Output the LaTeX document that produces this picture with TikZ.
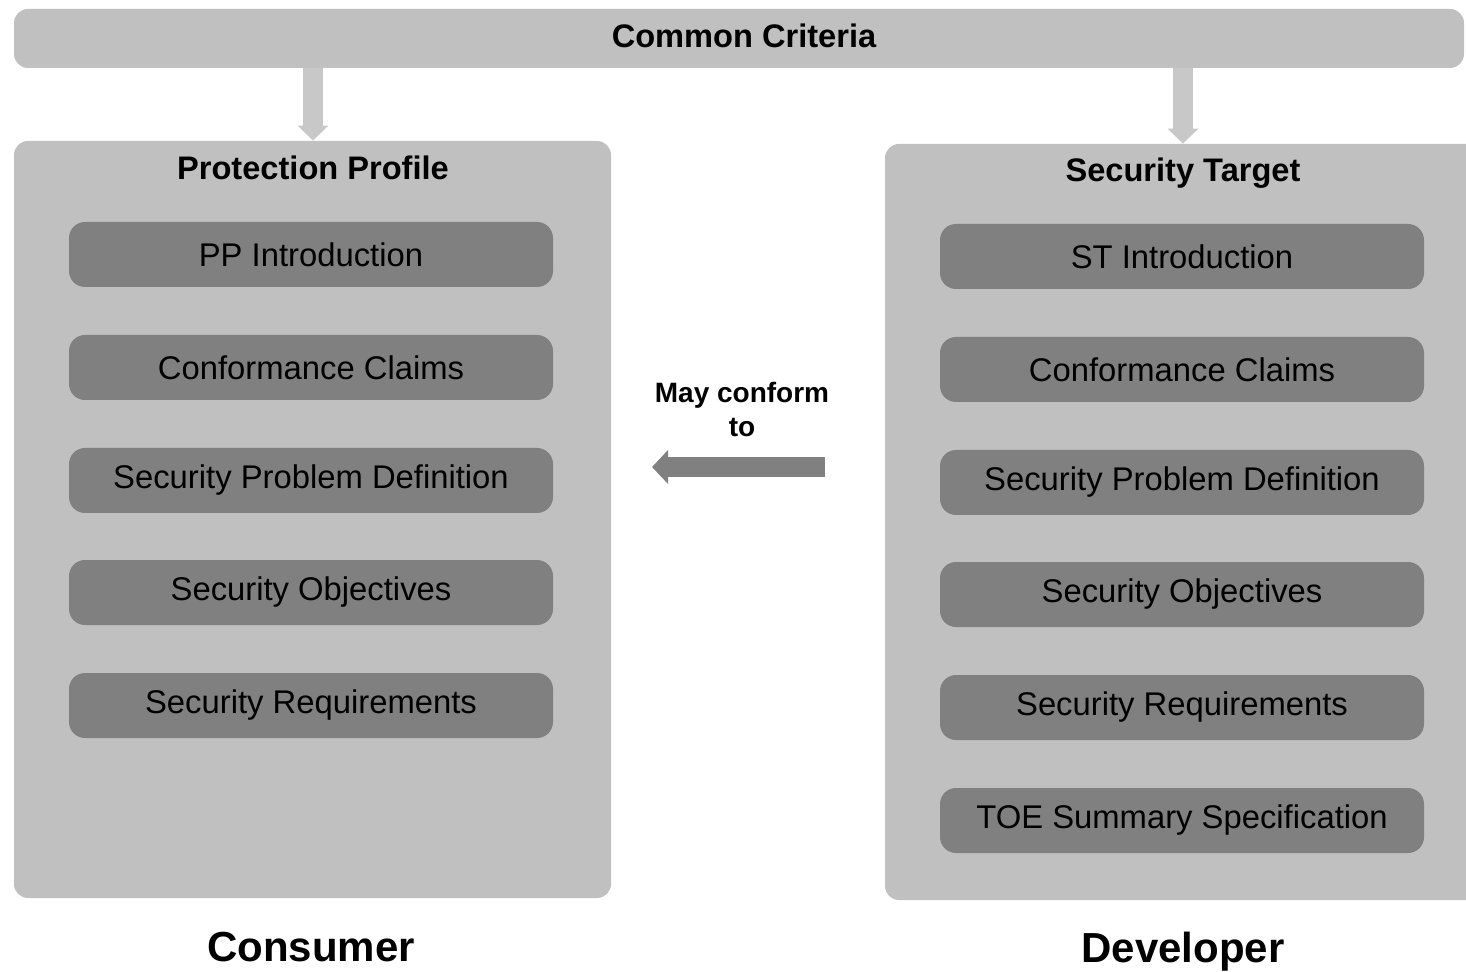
\documentclass[tikz,border=0pt]{standalone}
\usepackage{fontspec}
\setmainfont{Liberation Sans}
\usetikzlibrary{arrows.meta, positioning}
\definecolor{panelgrey}{HTML}{C0C0C0}
\definecolor{partgrey}{HTML}{808080}
\definecolor{feedgrey}{HTML}{C8C8C8}

\begin{document}
\begin{tikzpicture}[x=0.5pt, y=-0.5pt,
  panel/.style={fill=panelgrey, rounded corners=7pt, inner sep=0pt},
  part/.style={fill=partgrey, rounded corners=8pt, minimum width=242pt, minimum height=32.5pt, inner sep=0pt, font=\fontsize{16.4}{19}\selectfont},
  title/.style={font=\bfseries\fontsize{16.3}{19}\selectfont},
  role/.style={font=\bfseries\fontsize{21}{25}\selectfont},
  feedarrow/.style={feedgrey, line width=10pt, -{Triangle[width=15pt, length=7.5pt]}},
  conformarrow/.style={partgrey, line width=10pt, -{Triangle[width=16.5pt, length=8pt]}}]
\clip (0,0) rectangle (1466,972);
% criteria bar
\node[panel, minimum width=725pt, minimum height=29.5pt] (cc) at (739,38.5) {};
\node[title] (cctitle) at (744,36) {Common Criteria};
% the two documents
\node[panel, minimum width=298.5pt, minimum height=378.5pt] (pp) at (312.5,519.5) {};
\node[panel, minimum width=302.5pt, minimum height=378pt] (st) at (1187.5,522) {};
\node[title] (pptitle) at (313,168) {Protection Profile};
\node[title] (sttitle) at (1183,173) {Security Target};
\draw[feedarrow] (pptitle.north |- cc.south) -- (pptitle.north |- pp.north);
\draw[feedarrow] (sttitle.north |- cc.south) -- (sttitle.north |- st.north);
% protection profile parts
\node[part] (pp1) at (311,254.5) {PP Introduction};
\node[part] (pp2) at (311,367.5) {Conformance Claims};
\node[part] (pp3) at (311,480.5) {Security Problem Definition};
\node[part] (pp4) at (311,592.5) {Security Objectives};
\node[part] (pp5) at (311,705.5) {Security Requirements};
% security target parts
\node[part] (st1) at (1182,256.5) {ST Introduction};
\node[part] (st2) at (1182,369.5) {Conformance Claims};
\node[part] (st3) at (1182,482.5) {Security Problem Definition};
\node[part] (st4) at (1182,594.5) {Security Objectives};
\node[part] (st5) at (1182,707.5) {Security Requirements};
\node[part] (st6) at (1182,820.5) {TOE Summary Specification};
% conformance
\coordinate (confstart) at (825,467);
\coordinate (confend) at (652,467);
\draw[conformarrow] (confstart) -- (confend);
\node[align=center, font=\bfseries\fontsize{14}{17}\selectfont] (conflabel) at (742,409) {May conform\\to};
% roles
\node[role] (consumer) at (311,947) {Consumer};
\node[role] (developer) at (1183,952) {Developer};
\end{tikzpicture}
\end{document}
